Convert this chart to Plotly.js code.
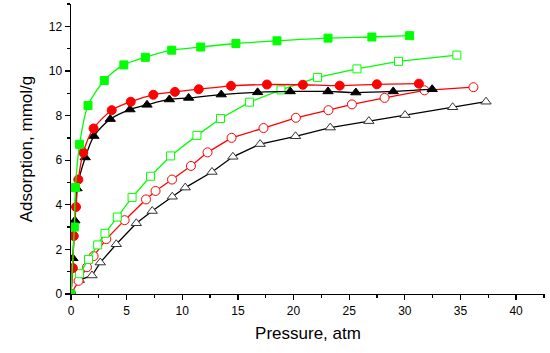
<!DOCTYPE html>
<html>
<head>
<meta charset="utf-8">
<script src="https://cdn.plot.ly/plotly-3.0.1.min.js"></script>
<style>html,body{margin:0;padding:0;background:#fff;}#chart{width:550px;height:353px;}</style>
</head>
<body>
<div id="chart"></div>
<script>
// Filled green squares
const greenFilledX = [0, 0.3, 0.4, 0.77, 1.53, 2.99, 4.75, 6.68, 9.05, 11.66, 14.82, 18.51, 23.1, 27.04, 30.43];
const greenFilledY = [0, 3.0, 4.77, 6.71, 8.45, 9.57, 10.27, 10.61, 10.93, 11.07, 11.23, 11.35, 11.47, 11.52, 11.58];
// Filled red circles
const redFilledX = [0, 0.17, 0.25, 0.45, 0.66, 1.1, 2.03, 3.66, 5.37, 7.4, 9.34, 11.48, 14.38, 17.61, 20.84, 24.15, 27.49, 31.27];
const redFilledY = [0, 1.16, 2.6, 3.9, 5.13, 6.34, 7.42, 8.24, 8.62, 8.93, 9.06, 9.18, 9.33, 9.39, 9.38, 9.34, 9.4, 9.43];
// Filled black triangles
const blackFilledX = [0, 0.17, 0.35, 0.54, 1.28, 2.06, 3.53, 5.3, 6.83, 8.84, 10.57, 13.5, 16.77, 19.7, 23.1, 25.6, 28.96, 32.46];
const blackFilledY = [0, 1.6, 3.29, 4.73, 6.12, 7.08, 7.84, 8.27, 8.48, 8.72, 8.79, 8.94, 9.04, 9.08, 9.08, 9.03, 9.08, 9.18];
// Open green squares
const greenOpenX = [0.77, 1.57, 2.4, 3.05, 4.16, 5.49, 7.15, 8.95, 11.32, 13.44, 16.05, 18.87, 22.16, 25.7, 29.43, 34.68];
const greenOpenY = [0.91, 1.55, 2.2, 2.72, 3.45, 4.33, 5.28, 6.19, 7.11, 7.87, 8.6, 9.15, 9.71, 10.09, 10.43, 10.71];
// Open red circles
const redOpenX = [0, 0.68, 1.44, 2.03, 3.17, 4.82, 6.74, 7.6, 9.08, 10.78, 12.27, 14.43, 17.3, 20.21, 23.14, 25.25, 28.18, 31.77, 36.17];
const redOpenY = [0, 0.59, 1.2, 1.7, 2.46, 3.31, 4.24, 4.62, 5.13, 5.74, 6.35, 7.0, 7.44, 7.9, 8.24, 8.5, 8.79, 9.13, 9.27];
// Open black triangles
const blackOpenX = [0.75, 1.89, 2.63, 4.07, 5.87, 7.3, 9.1, 10.27, 12.67, 14.55, 17.0, 20.18, 23.3, 26.77, 30.02, 34.3, 37.3];
const blackOpenY = [0.62, 0.83, 1.41, 2.23, 3.17, 3.72, 4.36, 4.77, 5.47, 6.15, 6.72, 7.07, 7.46, 7.75, 8.02, 8.37, 8.62];

const GREEN = '#00ff00', RED = '#ff0000', BLACK = '#000000';

function tr(x, y, color, symbol, filled, spline, size) {
  return {
    x: x, y: y, type: 'scatter', mode: 'lines+markers',
    line: {color: color, width: 1.3, shape: spline ? 'spline' : 'linear', smoothing: 0.8},
    marker: {symbol: symbol, size: size, color: filled ? color : '#ffffff',
             line: {color: filled ? color : (color === BLACK ? '#333333' : color), width: 1}},
    cliponaxis: true, showlegend: false
  };
}

const data = [
  tr(blackOpenX, blackOpenY, BLACK, 'triangle-up', false, false, 9),
  tr(redOpenX, redOpenY, RED, 'circle', false, false, 9),
  tr(greenOpenX, greenOpenY, GREEN, 'square', false, false, 8),
  tr(blackFilledX, blackFilledY, BLACK, 'triangle-up', true, true, 9),
  tr(redFilledX, redFilledY, RED, 'circle', true, true, 9),
  tr(greenFilledX, greenFilledY, GREEN, 'square', true, true, 8)
];

const font = {family: 'Arial, "Liberation Sans", sans-serif', color: '#000', size: 12};

const layout = {
  width: 550, height: 353,
  margin: {l: 71, r: 5, t: 4, b: 59},
  paper_bgcolor: '#fff', plot_bgcolor: '#fff',
  font: font,
  xaxis: {
    range: [0, 42.6], dtick: 5, tick0: 0,
    showgrid: false, zeroline: false,
    showline: true, linecolor: '#000', linewidth: 1.4,
    ticks: 'outside', ticklen: 5, tickwidth: 1.3, tickcolor: '#000',
    minor: {dtick: 2.5, ticks: 'outside', ticklen: 3, tickwidth: 1.3, tickcolor: '#000', showgrid: false},
    tickfont: {family: font.family, size: 12, color: '#000'},
    title: {text: 'Pressure, atm', font: {family: font.family, size: 17, color: '#000'}, standoff: 10}
  },
  yaxis: {
    range: [0, 13], dtick: 2, tick0: 0,
    showgrid: false, zeroline: false,
    showline: true, linecolor: '#000', linewidth: 1.4,
    ticks: 'outside', ticklen: 5, tickwidth: 1.3, tickcolor: '#000',
    minor: {dtick: 1, ticks: 'outside', ticklen: 3, tickwidth: 1.3, tickcolor: '#000', showgrid: false},
    tickfont: {family: font.family, size: 12, color: '#000'},
    title: {text: 'Adsorption, mmol/g', font: {family: font.family, size: 17, color: '#000'}, standoff: 12}
  },
  showlegend: false
};

Plotly.newPlot('chart', data, layout, {displayModeBar: false, staticPlot: true});
</script>
</body>
</html>
